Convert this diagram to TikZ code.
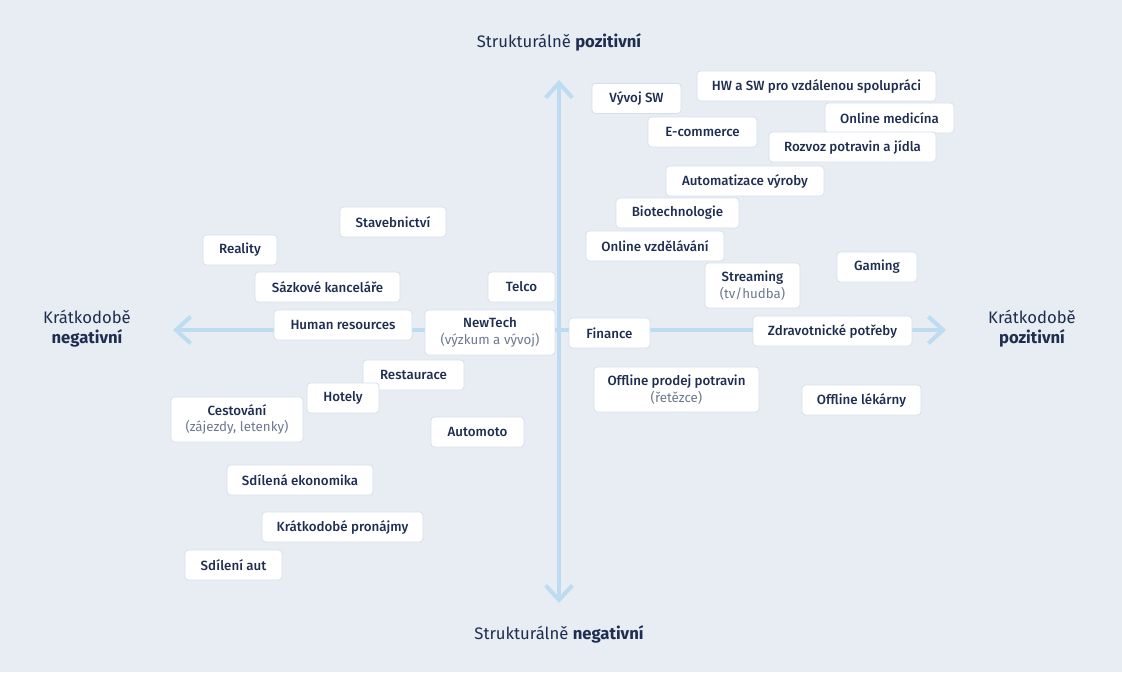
\documentclass[tikz,border=0pt]{standalone}
\usepackage{fontspec}
\setmainfont{Fira Sans}[BoldFont={Fira Sans Medium}]
\newfontfamily\heavyfont{Fira Sans}
\usetikzlibrary{arrows.meta}

\definecolor{bg}{HTML}{E7EDF3}
\definecolor{ink}{HTML}{1E2D50}
\definecolor{subink}{HTML}{6E7890}
\definecolor{axis}{HTML}{BEDCF1}
\definecolor{boxline}{HTML}{D6DFE9}

\newcommand{\subtxt}[1]{{\mdseries\color{subink}#1}}

\begin{document}
\begin{tikzpicture}[x=0.75pt,y=-0.75pt,
  box/.style={draw=boxline,fill=white,line width=0.6pt,rounded corners=2.5pt,text=ink,
    font=\fontsize{10}{12.5}\selectfont\bfseries,inner sep=0pt,align=center,minimum height=22.5pt},
  bw/.style={minimum width=#1*0.75pt},
  tall/.style={minimum height=33.75pt},
  axlabel/.style={text=ink,font=\fontsize{12.5}{15}\selectfont,align=center},
  axline/.style={draw=axis,line width=3pt,line cap=round,
    {Straight Barb[length=11pt,width=20pt,line width=3pt]}-{Straight Barb[length=11pt,width=20pt,line width=3pt]}}]
\fill[bg] (0,0) rectangle (1122,672);
\useasboundingbox (0,0) rectangle (1122,672);

% axes
\coordinate (top) at (559,80);
\coordinate (bottom) at (559,603);
\coordinate (left) at (173,330);
\coordinate (right) at (946,330);
\path[axline] (bottom) -- (top);
\path[axline] (left) -- (right);

% axis labels
\node[axlabel] (n) at (559,42) {Strukturálně {\heavyfont\bfseries pozitivní}};
\node[axlabel] (s) at (559,634) {Strukturálně {\heavyfont\bfseries negativní}};
\node[axlabel] (w) at (87,329) {Krátkodobě\\{\heavyfont\bfseries negativní}};
\node[axlabel] (e) at (1032,329) {Krátkodobě\\{\heavyfont\bfseries pozitivní}};

% sectors
\node[box,bw=89] (1) at (636.5,98.5) {Vývoj SW};
\node[box,bw=239] (2) at (816.5,86) {HW a SW pro vzdálenou spolupráci};
\node[box,bw=129] (3) at (889.5,118) {Online medicína};
\node[box,bw=109] (4) at (702.5,132) {E-commerce};
\node[box,bw=167] (5) at (852.5,147) {Rozvoz potravin a jídla};
\node[box,bw=158] (6) at (745,181) {Automatizace výroby};
\node[box,bw=123] (7) at (677.5,213) {Biotechnologie};
\node[box,bw=138] (8) at (655,246) {Online vzdělávání};
\node[box,bw=106] (9) at (393,222) {Stavebnictví};
\node[box,bw=74] (10) at (240,250) {Reality};
\node[box,bw=145] (11) at (327.5,287) {Sázkové kanceláře};
\node[box,bw=67] (12) at (521.5,287) {Telco};
\node[box,bw=80] (13) at (877,267) {Gaming};
\node[box,bw=95,tall] (14) at (752.5,285.5) {Streaming\\\subtxt{(tv/hudba)}};
\node[box,bw=138] (15) at (343,325) {Human resources};
\node[box,bw=130,tall] (16) at (490,332.5) {NewTech\\\subtxt{(výzkum a vývoj)}};
\node[box,bw=81] (17) at (609.5,333) {Finance};
\node[box,bw=159] (18) at (832.5,331) {Zdravotnické potřeby};
\node[box,bw=101] (19) at (413.5,375) {Restaurace};
\node[box,bw=72] (20) at (343,398) {Hotely};
\node[box,bw=132,tall] (21) at (237,419.5) {Cestování\\\subtxt{(zájezdy, letenky)}};
\node[box,bw=165,tall] (22) at (676.5,389.5) {Offline prodej potravin\\\subtxt{(řetězce)}};
\node[box,bw=119] (23) at (861.5,400) {Offline lékárny};
\node[box,bw=93] (24) at (477.5,432) {Automoto};
\node[box,bw=146] (25) at (300,480) {Sdílená ekonomika};
\node[box,bw=161] (26) at (342.5,527) {Krátkodobé pronájmy};
\node[box,bw=97] (27) at (233.5,565) {Sdílení aut};
\end{tikzpicture}
\end{document}
